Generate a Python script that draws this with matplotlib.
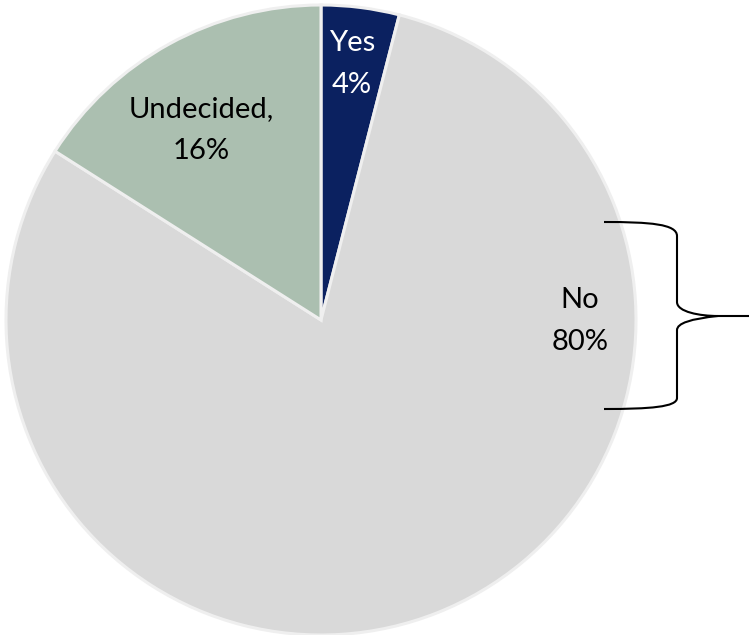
import matplotlib
matplotlib.use("Agg")
import matplotlib.pyplot as plt
from matplotlib.path import Path
from matplotlib.patches import PathPatch

labels = ["Yes", "No", "Undecided"]
values = [4, 80, 16]
colors = ["#0b2160", "#d9d9d9", "#abbfb0"]
label_texts = ["Yes\n4%", "No\n80%", "Undecided,\n16%"]
label_colors = ["white", "black", "black"]

W, H = 749, 635
fig = plt.figure(figsize=(W / 100, H / 100), dpi=100)
ax = fig.add_axes([0, 0, 1, 1])

cx, cy, r = 321, H - 320, 315
wedges, _ = ax.pie(values, colors=colors, startangle=90, counterclock=False,
                   center=(cx, cy), radius=r,
                   wedgeprops=dict(edgecolor="#efefef", linewidth=2.2),
                   frame=True)
ax.set_xlim(0, W)
ax.set_ylim(0, H)
ax.set_aspect("equal")
ax.axis("off")

font = ["Lato", "DejaVu Sans"]
pos = [(352, 64), (580, 321), (201, 130)]
for (px, py), t, c in zip(pos, label_texts, label_colors):
    ax.text(px, H - py, t, ha="center", va="center", color=c, fontsize=21,
            family=font, linespacing=1.75)

# brace on the right
def P(x, y):
    return (x, H - y)

verts = [P(604, 222), P(650, 222), P(677, 224), P(677, 236),
         P(677, 302),
         P(677, 312), P(700, 316), P(718, 316),
         P(677, 320), P(677, 330),
         P(677, 398),
         P(677, 407), P(650, 409), P(604, 409)]
codes = [Path.MOVETO, Path.CURVE4, Path.CURVE4, Path.CURVE4,
         Path.LINETO,
         Path.CURVE4, Path.CURVE4, Path.CURVE4,
         Path.CURVE3, Path.CURVE3,
         Path.LINETO,
         Path.CURVE4, Path.CURVE4, Path.CURVE4]
ax.add_patch(PathPatch(Path(verts, codes), fill=False, edgecolor="black", lw=1.5))
ax.plot([718, 749], [H - 316, H - 316], color="black", lw=1.5, solid_capstyle="butt")

fig.savefig("out.png", dpi=100)
